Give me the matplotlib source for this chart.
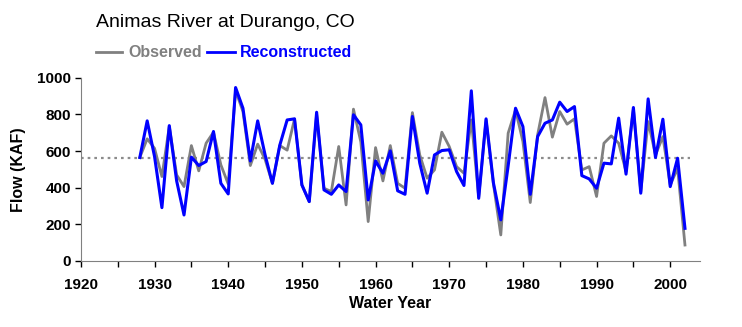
import matplotlib.pyplot as plt

plt.rcParams['font.family'] = ['Liberation Sans', 'DejaVu Sans']

years = list(range(1928, 2003))

observed = [565, 667, 615, 461, 734, 470, 406, 630, 492, 643,
            703, 525, 420, 930, 816, 521, 638, 555, 424, 630,
            605, 775, 415, 324, 800, 397, 379, 625, 306, 829,
            650, 215, 619, 437, 630, 424, 397, 810, 579, 452,
            497, 703, 625, 515, 479, 770, 350, 770, 420, 142,
            698, 825, 652, 319, 689, 892, 676, 816, 747, 776,
            497, 515, 352, 643, 683, 643, 488, 830, 379, 761,
            579, 679, 415, 506, 87]

reconstructed = [565, 765, 570, 291, 739, 437, 251, 567, 521, 543,
                 707, 424, 366, 947, 834, 546, 765, 580, 424, 632,
                 770, 776, 415, 324, 812, 388, 364, 415, 379, 798,
                 743, 333, 546, 479, 601, 383, 364, 789, 534, 370,
                 579, 603, 607, 488, 412, 929, 342, 776, 426, 224,
                 520, 834, 734, 364, 679, 752, 770, 867, 816, 843,
                 466, 448, 397, 534, 530, 780, 474, 838, 370, 885,
                 565, 774, 406, 561, 178]

mean_flow = 560

fig = plt.figure(figsize=(7.42, 3.27), dpi=100)
ax = fig.add_axes([0.109, 0.202, 0.834, 0.560])

ax.hlines(mean_flow, 1920, 2002.7, colors='#8c8c8c', linestyles=(0, (1.2, 1.8)), linewidth=1.6, zorder=1)
ax.plot(years, observed, color='#808080', linewidth=2.0, zorder=2)
ax.plot(years, reconstructed, color='#0000ff', linewidth=2.2, zorder=3)

ax.set_xlim(1920, 2004)
ax.set_ylim(0, 1000)
ax.set_xticks(range(1920, 2001, 10))
ax.set_xticks(range(1925, 2004, 5), minor=True)
ax.set_yticks(range(0, 1001, 200))
for lab in ax.get_xticklabels() + ax.get_yticklabels():
    lab.set_fontweight('bold')
    lab.set_fontsize(11)
ax.tick_params(axis='both', which='both', direction='out', length=4, width=1, colors='black')
ax.tick_params(axis='x', pad=8)
ax.tick_params(axis='y', pad=3)
ax.spines['top'].set_visible(False)
ax.spines['right'].set_visible(False)
ax.spines['left'].set_color('#808080')
ax.spines['bottom'].set_color('#808080')

ax.set_xlabel('Water Year', fontsize=11.5, fontweight='bold', labelpad=3)
ax.set_ylabel('Flow (KAF)', fontsize=11.5, fontweight='bold', labelpad=8)

fig.text(0.129, 0.93, 'Animas River at Durango, CO', fontsize=14, ha='left', va='center')
fig.lines.append(plt.Line2D([0.130, 0.165], [0.84, 0.84], color='#808080', linewidth=2, transform=fig.transFigure))
fig.text(0.1725, 0.84, 'Observed', fontsize=11.5, fontweight='bold', color='#808080', ha='left', va='center')
fig.lines.append(plt.Line2D([0.279, 0.317], [0.84, 0.84], color='#0000ff', linewidth=2, transform=fig.transFigure))
fig.text(0.3235, 0.84, 'Reconstructed', fontsize=11.5, fontweight='bold', color='#0000ff', ha='left', va='center')

fig.savefig('out.png', dpi=100)
